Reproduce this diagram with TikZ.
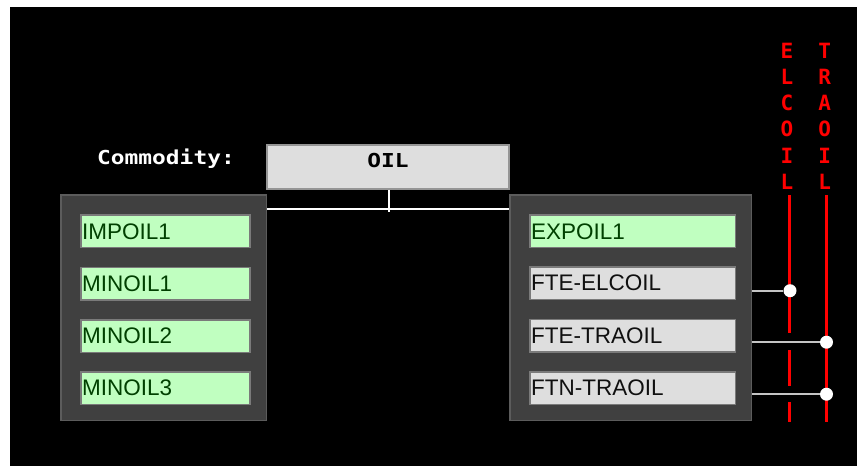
\documentclass[tikz,border=0pt]{standalone}
\usepackage{fontspec}
\usepackage{graphicx}
\setmainfont{Liberation Sans}
\newfontfamily\monobold{DejaVu Sans Mono Bold}
\definecolor{panelgray}{HTML}{404040}
\definecolor{paneledge}{HTML}{5C5C5C}
\definecolor{itemedge}{HTML}{7A7A7A}
\definecolor{itemgreen}{HTML}{C0FFC0}
\definecolor{itemgreentext}{HTML}{004000}
\definecolor{itemgray}{HTML}{DEDEDE}
\definecolor{itemgraytext}{HTML}{101010}
\definecolor{linkgray}{HTML}{C4C4C4}
\definecolor{busred}{HTML}{FF0000}
\begin{document}
\begin{tikzpicture}[x=1pt,y=-1pt,
  panel/.style={rectangle, draw=paneledge, fill=panelgray, line width=1.5pt,
    minimum height=225.7pt, inner sep=0pt},
  item/.style={rectangle, draw=itemedge, line width=1.5pt, minimum height=32.5pt,
    inner xsep=1.2pt, inner ysep=0pt, align=left,
    font=\fontsize{22.5}{24}\selectfont},
  greenitem/.style={item, fill=itemgreen, text=itemgreentext},
  grayitem/.style={item, fill=itemgray, text=itemgraytext},
  monolabel/.style={text=white, font=\monobold\fontsize{19.2}{22}\selectfont, inner sep=0pt},
  oilbox/.style={rectangle, draw=itemedge!80!white, fill=itemgray, line width=1.5pt,
    minimum width=242pt, minimum height=44pt, inner sep=0pt},
  buslabel/.style={text=busred, align=center, inner sep=0pt,
    font=\monobold\fontsize{21}{26.1}\selectfont},
  busline/.style={draw=busred, line width=3.4pt},
  joint/.style={circle, fill=white, inner sep=0pt, minimum size=13pt},
  link/.style={draw=linkgray, line width=2pt},
  oillink/.style={draw=white, line width=2pt}]

% canvas
\useasboundingbox (0,0) rectangle (860,466);
\fill[white] (0,0) rectangle (860,466);
\fill[black] (10,7) rectangle (857,466);

% commodity selector
\node[monolabel, anchor=base] (commlabel) at (166,164) {\scalebox{1.19}[1]{Commodity:}};
\node[oilbox] (oil) at (388,167) {};
\node[monolabel, text=black, anchor=base] (oiltext) at (388,167) {\scalebox{1.19}[1]{OIL}};

% process panels
\node[panel, minimum width=205.7pt] (lpanel) at (163.85,307.85) {};
\node[panel, minimum width=241.7pt] (rpanel) at (630.85,307.85) {};

% left panel processes
\node[greenitem, text width=166.6pt] (impoil1) at (165.5,231.3) {IMPOIL1};
\node[greenitem, text width=166.6pt] (minoil1) at (165.5,283.6) {MINOIL1};
\node[greenitem, text width=166.6pt] (minoil2) at (165.5,336.1) {MINOIL2};
\node[greenitem, text width=166.6pt] (minoil3) at (165.5,388.0) {MINOIL3};

% right panel processes
\node[greenitem, text width=203.3pt] (expoil1) at (632.85,231.3) {EXPOIL1};
\node[grayitem, text width=203.3pt] (fteelcoil) at (632.85,283.0) {FTE-ELCOIL};
\node[grayitem, text width=203.3pt] (ftetraoil) at (632.85,335.8) {FTE-TRAOIL};
\node[grayitem, text width=203.3pt] (ftntraoil) at (632.85,388.0) {FTN-TRAOIL};

% commodity bus between the panels
\coordinate (oiljoin) at (389.3,211.5);
\coordinate (oilbus) at (389.3,209.3);
\draw[oillink] (oil.south -| oiljoin) -- (oiljoin);
\draw[oillink] (lpanel.east |- oilbus) -- (rpanel.west |- oilbus);

% commodity lines on the right
\node[buslabel] (elclabel) at (787,116.2) {E\\L\\C\\O\\I\\L};
\node[buslabel] (tralabel) at (824.7,116.2) {T\\R\\A\\O\\I\\L};
\coordinate (elctop) at (789.5,195);
\coordinate (elcbot) at (789.5,422);
\coordinate (tratop) at (826.5,195);
\coordinate (trabot) at (826.5,422);
\draw[busline, dash pattern=on 138pt off 17pt on 36pt off 16pt on 40pt] (elctop) -- (elcbot);
\draw[busline] (tratop) -- (trabot);

% connections to the commodity lines
\node[joint] (j1) at (790,290.7) {};
\node[joint] (j2) at (826.5,342.2) {};
\node[joint] (j3) at (826.5,394.2) {};
\draw[link] (rpanel.east |- j1) -- (j1);
\draw[link] (rpanel.east |- j2) -- (j2);
\draw[link] (rpanel.east |- j3) -- (j3);
\end{tikzpicture}
\end{document}
